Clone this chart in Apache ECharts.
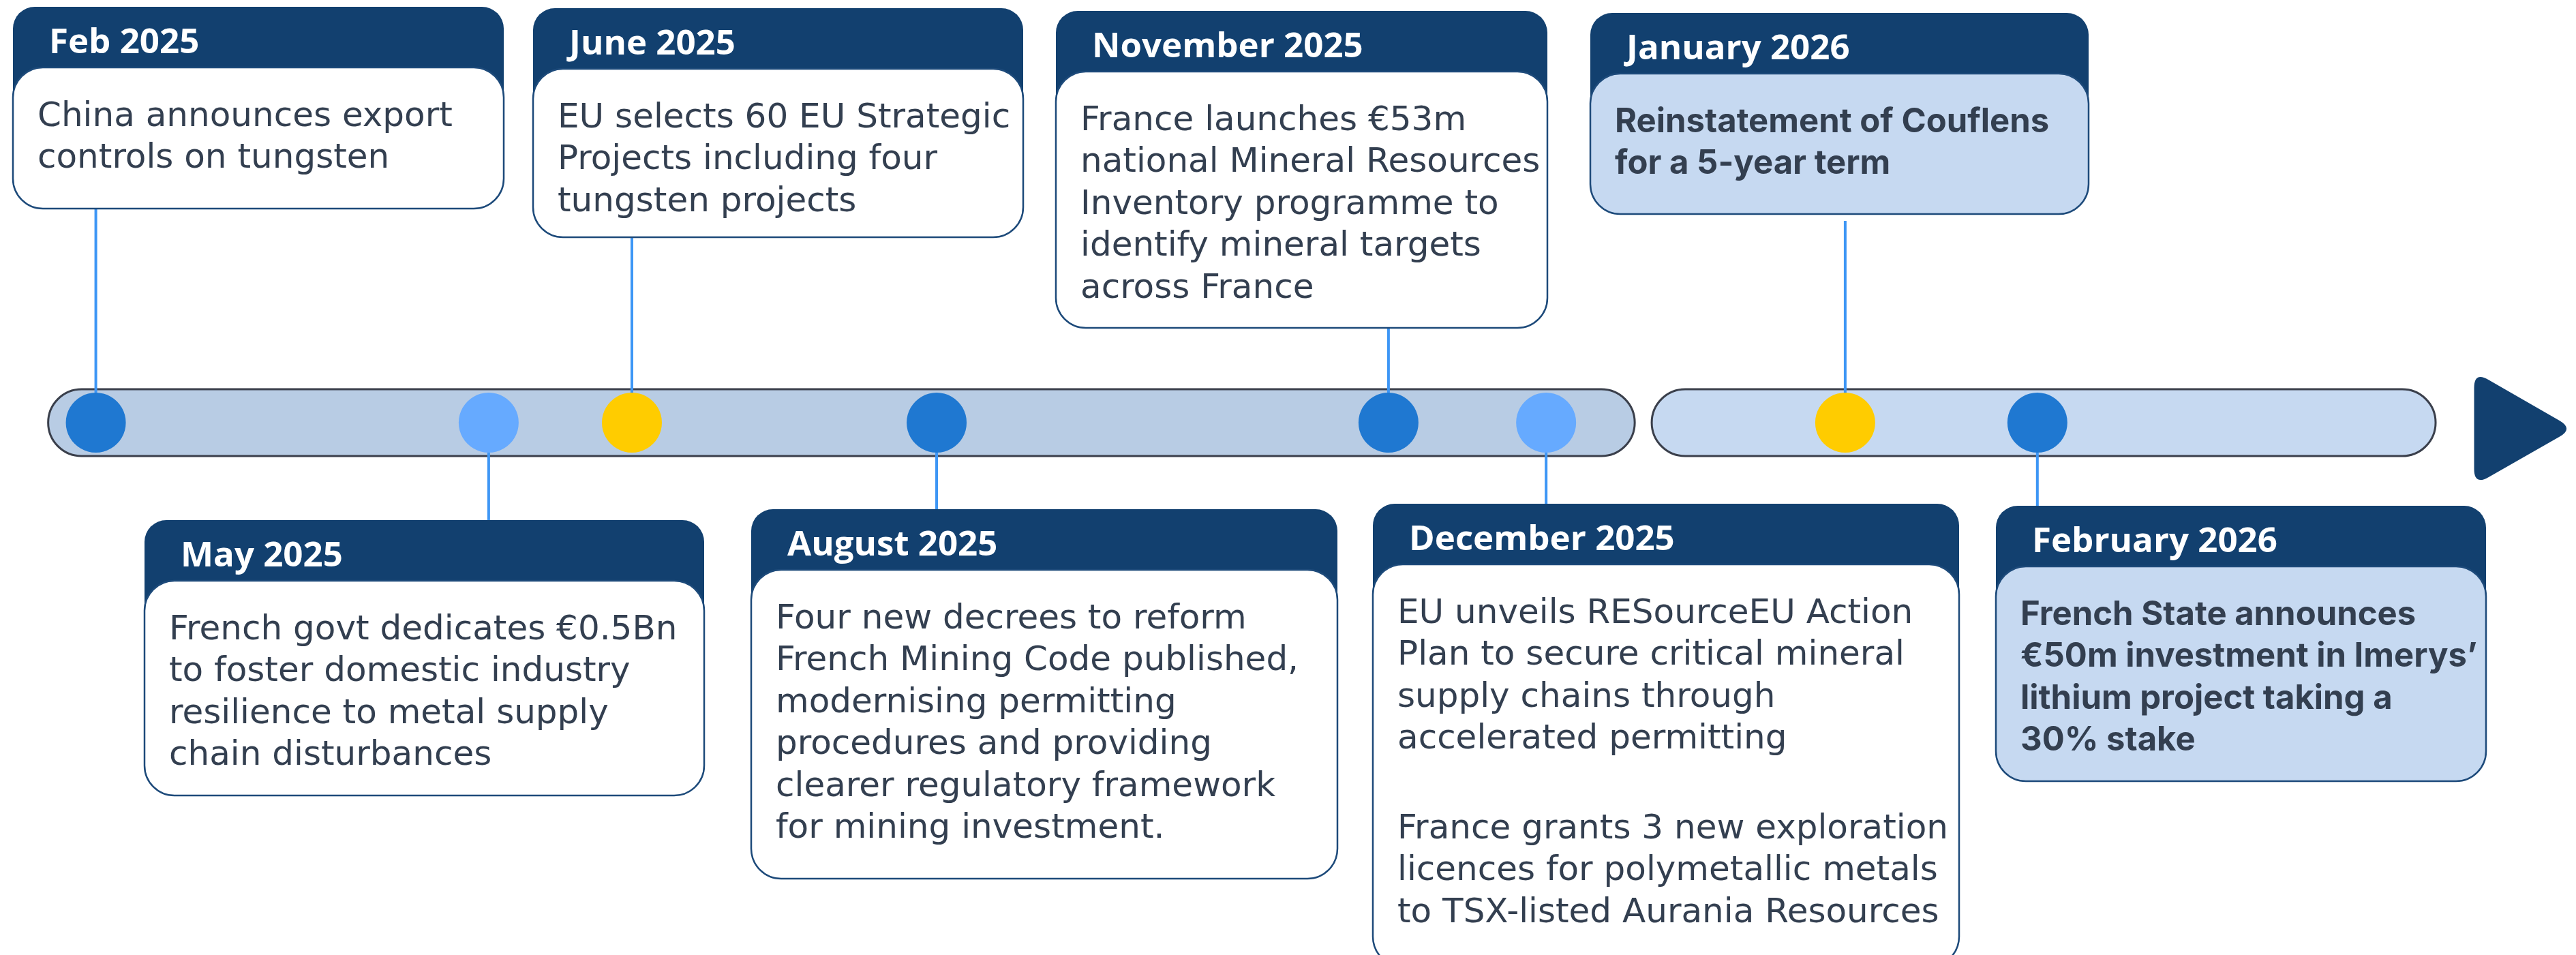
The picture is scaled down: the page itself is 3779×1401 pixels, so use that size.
<!DOCTYPE html>
<html>
<head>
<meta charset="utf-8">
<script src="https://cdn.jsdelivr.net/npm/echarts@6/dist/echarts.min.js"></script>
<style>
  html, body { margin: 0; padding: 0; background: #ffffff; }
  #chart { width: 3779px; height: 1401px; }
</style>
</head>
<body>
<div id="chart"></div>
<script>
// ---------------- DATA ----------------
const eventLabels = ['Feb 2025', 'May 2025', 'June 2025', 'August 2025', 'November 2025', 'December 2025', 'January 2026', 'February 2026'];
// position of each event along the timeline (percent of the timeline's width)
const eventPositions = [3.72, 18.97, 24.53, 36.36, 53.90, 60.02, 71.63, 79.09];
// dot category: 'major' (dark blue), 'minor' (light blue), 'eu' (yellow)
const eventKinds = ['major', 'minor', 'eu', 'major', 'major', 'minor', 'eu', 'major'];
const eventSides = ['top', 'bottom', 'top', 'bottom', 'top', 'bottom', 'top', 'bottom'];
const eventTexts = [
  'China announces export\ncontrols on tungsten',
  'French govt dedicates €0.5Bn\nto foster domestic industry\nresilience to metal supply\nchain disturbances',
  'EU selects 60 EU Strategic\nProjects including four\ntungsten projects',
  'Four new decrees to reform\nFrench Mining Code published,\nmodernising permitting\nprocedures and providing\nclearer regulatory framework\nfor mining investment.',
  'France launches €53m\nnational Mineral Resources\nInventory programme to\nidentify mineral targets\nacross France',
  'EU unveils RESourceEU Action\nPlan to secure critical mineral\nsupply chains through\naccelerated permitting\n\nFrance grants 3 new exploration\nlicences for polymetallic metals\nto TSX-listed Aurania Resources',
  'Reinstatement of Couflens\nfor a 5-year term',
  'French State announces\n€50m investment in Imerys’\nlithium project taking a\n30% stake'
];
// timeline segments (2025 and 2026), start / end in timeline percent
const segmentStarts = [1.87, 64.12];
const segmentEnds = [63.46, 94.55];
// arrow at the end of the timeline (timeline percent)
const arrowPosition = [97.95];

// ---------------- LAYOUT / STYLE ----------------
const W = 3779, H = 1401, AXIS_Y = 620;
const boxLayout = [
  { x0: 19,   x1: 739,  y0: 10,  y1: 306,  gap: 0,  fill: '#ffffff', bold: false },
  { x0: 212,  x1: 1033, y0: 763, y1: 1167, gap: 0,  fill: '#ffffff', bold: false },
  { x0: 782,  x1: 1501, y0: 12,  y1: 348,  gap: 0,  fill: '#ffffff', bold: false },
  { x0: 1102, x1: 1962, y0: 747, y1: 1289, gap: 0,  fill: '#ffffff', bold: false },
  { x0: 1549, x1: 2270, y0: 16,  y1: 481,  gap: 0,  fill: '#ffffff', bold: false },
  { x0: 2014, x1: 2874, y0: 739, y1: 1418, gap: 0,  fill: '#ffffff', bold: false },
  { x0: 2333, x1: 3064, y0: 19,  y1: 314,  gap: 10, fill: '#c6d9f1', bold: true },
  { x0: 2928, x1: 3647, y0: 742, y1: 1146, gap: 0,  fill: '#c6d9f1', bold: true }
];
const kindColors = { major: '#1f78d1', minor: '#66aaff', eu: '#ffcc00' };
const segmentFills = ['#b8cce4', '#c6d9f1'];
const HEADER_H = 89, LINE_H = 61.5, PARA_GAP = 70;
const HEAD = { font: '"Open Sans"', size: 51, mid: 0.385 };
const BODY = { font: '"DejaVu Sans"', size: 50, mid: 0.346, weight: 'normal' };
const BODY_BOLD = { font: 'Inter', size: 49, mid: 0.364, weight: 'bold' };

function roundedTriangle(pts, r) {
  let d = '';
  const n = pts.length;
  for (let i = 0; i < n; i++) {
    const V = pts[i], P = pts[(i + n - 1) % n], N = pts[(i + 1) % n];
    const lp = Math.hypot(P[0] - V[0], P[1] - V[1]);
    const ln = Math.hypot(N[0] - V[0], N[1] - V[1]);
    const s = [V[0] + (P[0] - V[0]) / lp * r, V[1] + (P[1] - V[1]) / lp * r];
    const e = [V[0] + (N[0] - V[0]) / ln * r, V[1] + (N[1] - V[1]) / ln * r];
    d += (i === 0 ? 'M' : 'L') + s[0] + ' ' + s[1] + ' Q' + V[0] + ' ' + V[1] + ' ' + e[0] + ' ' + e[1] + ' ';
  }
  return d + 'Z';
}

const chart = echarts.init(document.getElementById('chart'), null, { renderer: 'svg', width: W, height: H });

const option = {
  animation: false,
  backgroundColor: '#ffffff',
  grid: { left: 0, right: 0, top: 0, bottom: 0 },
  xAxis: { type: 'value', min: 0, max: 100, show: false },
  yAxis: { type: 'value', min: -(H - AXIS_Y), max: AXIS_Y, show: false },
  series: [
    {
      type: 'custom',
      name: 'segments',
      z: 1,
      silent: true,
      data: segmentStarts.map((s, i) => [s, segmentEnds[i]]),
      renderItem: function (params, api) {
        const a = api.coord([api.value(0), 0]);
        const b = api.coord([api.value(1), 0]);
        return {
          type: 'rect',
          shape: { x: a[0], y: a[1] - 49, width: b[0] - a[0], height: 98, r: 49 },
          style: { fill: segmentFills[params.dataIndex], stroke: '#3a3f4b', lineWidth: 3 }
        };
      }
    },
    {
      type: 'custom',
      name: 'arrow',
      z: 1,
      silent: true,
      data: arrowPosition.map(p => [p, 0]),
      renderItem: function (params, api) {
        const c = api.coord([api.value(0), 0]);
        const pts = [[c[0] - 72, c[1] - 75], [c[0] - 72, c[1] + 92], [c[0] + 74, c[1] + 9]];
        return {
          type: 'path',
          shape: { pathData: roundedTriangle(pts, 24) },
          style: { fill: '#12406f' }
        };
      }
    },
    {
      type: 'custom',
      name: 'events',
      z: 2,
      silent: true,
      data: eventPositions.map((p, i) => [p, 0, i]),
      renderItem: function (params, api) {
        const i = params.dataIndex;
        const L = boxLayout[i];
        const p = api.coord([api.value(0), 0]);
        const w = L.x1 - L.x0;
        let ya, yb;
        if (eventSides[i] === 'top') { ya = L.y1 + L.gap; yb = p[1] - 38; }
        else { ya = p[1] + 44; yb = L.y0; }
        const B = L.bold ? BODY_BOLD : BODY;
        const bodyFont = B.weight + ' ' + B.size + 'px ' + B.font;
        const children = [
          { type: 'line', shape: { x1: p[0], y1: ya, x2: p[0], y2: yb }, style: { stroke: '#3d96f5', lineWidth: 4 } },
          { type: 'rect', shape: { x: L.x0, y: L.y0, width: w, height: HEADER_H + 60, r: [32, 32, 0, 0] }, style: { fill: '#12406f' } },
          { type: 'rect', shape: { x: L.x0, y: L.y0 + HEADER_H, width: w, height: L.y1 - L.y0 - HEADER_H, r: 44 },
            style: { fill: L.fill, stroke: '#1d4a7a', lineWidth: 2.5 } },
          { type: 'text', x: L.x0 + 53, y: L.y0 + 68 - HEAD.mid * HEAD.size,
            style: { text: eventLabels[i], fill: '#ffffff', font: 'bold ' + HEAD.size + 'px ' + HEAD.font, verticalAlign: 'middle', align: 'left' } }
        ];
        let base = L.y0 + 175;
        eventTexts[i].split('\n\n').forEach(function (para) {
          const n = para.split('\n').length;
          children.push({ type: 'text', x: L.x0 + 36, y: base - B.mid * B.size + (n - 1) * LINE_H / 2,
            style: { text: para, fill: '#333f50', font: bodyFont, lineHeight: LINE_H, verticalAlign: 'middle', align: 'left' } });
          base += (n - 1) * LINE_H + LINE_H + PARA_GAP;
        });
        return { type: 'group', children: children };
      }
    },
    {
      type: 'scatter',
      name: 'dots',
      z: 3,
      silent: true,
      symbolSize: 88,
      data: eventPositions.map((p, i) => ({ value: [p, 0], itemStyle: { color: kindColors[eventKinds[i]], opacity: 1 } }))
    }
  ]
};
chart.setOption(option);
</script>
</body>
</html>
